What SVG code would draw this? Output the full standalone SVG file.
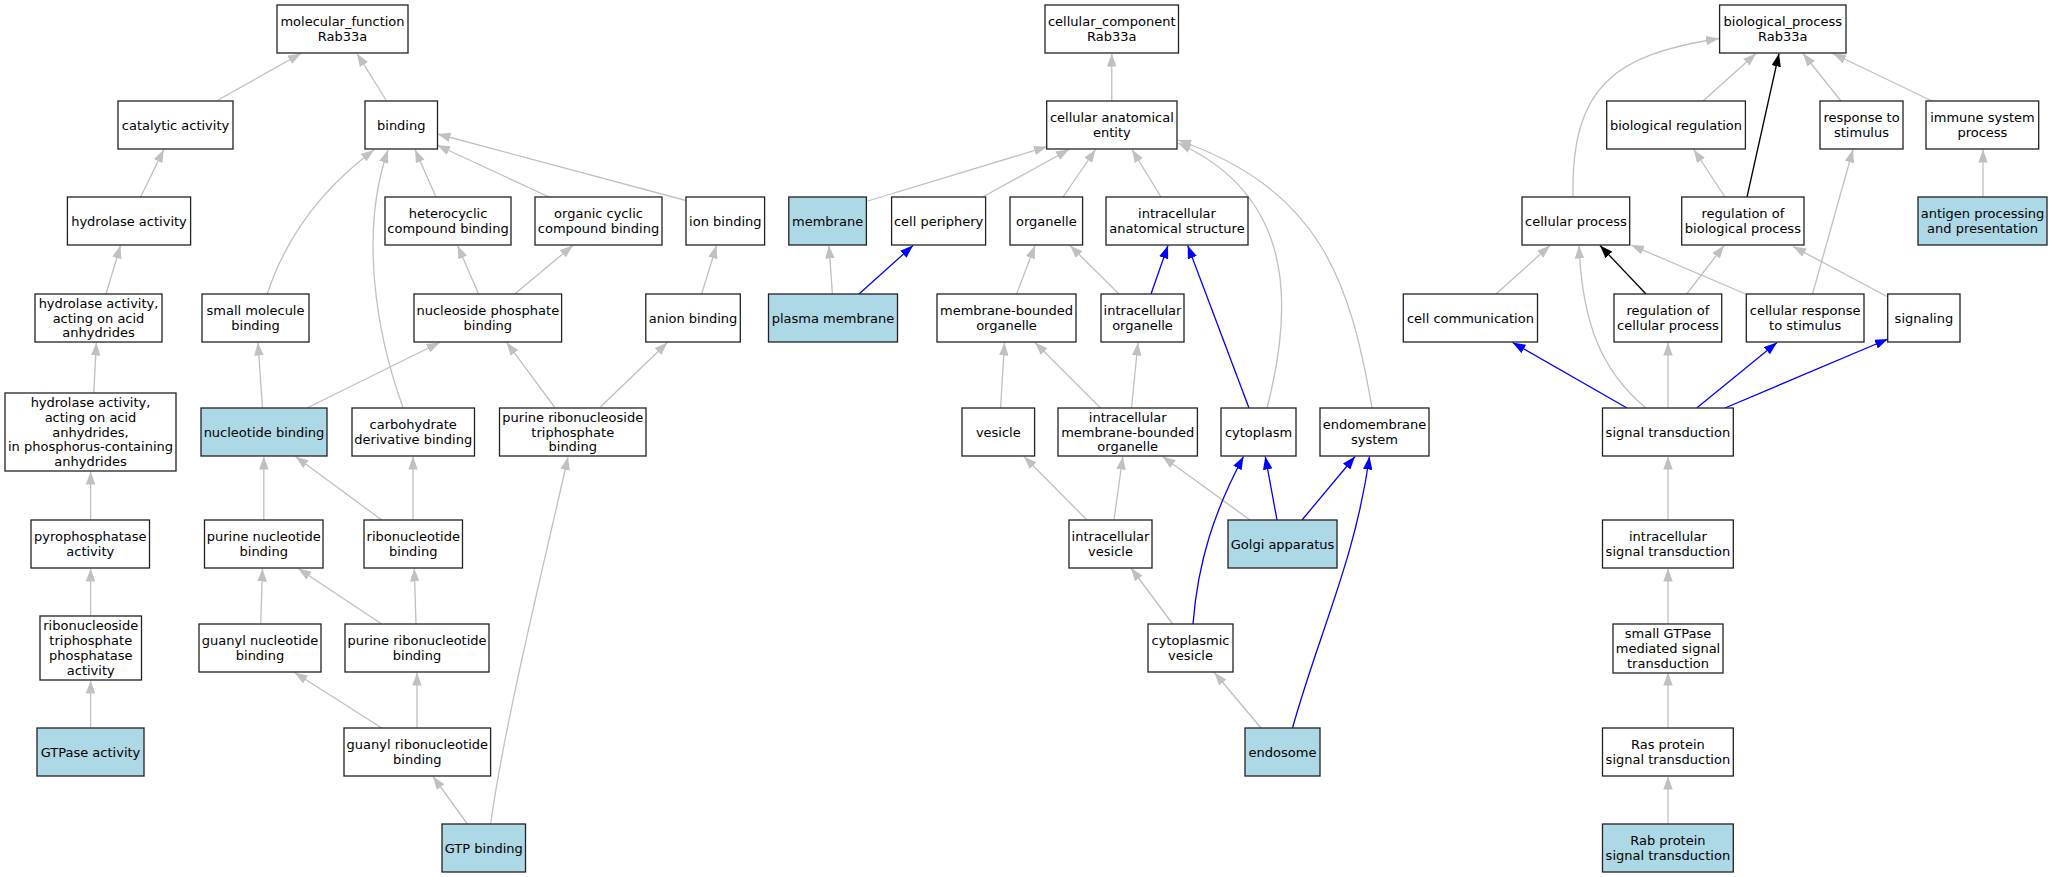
<svg xmlns="http://www.w3.org/2000/svg" width="2053" height="877" viewBox="0 0 2053 877">
<style>
.n rect{fill:#ffffff;stroke:#222222;stroke-width:1.3}
.h rect{fill:#add8e6;stroke:#222222;stroke-width:1.3}
text{font-family:"DejaVu Sans","Liberation Sans",sans-serif;font-size:13px;fill:#000000;text-anchor:middle}
.e path{fill:none;stroke-width:1.3}
.g{stroke:#c0c0c0;marker-end:url(#ag)}
.b{stroke:#0000ff;marker-end:url(#ab)}
.k{stroke:#000000;marker-end:url(#ak)}
</style>
<defs>
<marker id="ag" viewBox="0 0 13 9.5" refX="13" refY="4.75" markerWidth="13" markerHeight="9.5" markerUnits="userSpaceOnUse" orient="auto"><path d="M0,0 L13,4.75 L0,9.5 z" fill="#c0c0c0"/></marker>
<marker id="ab" viewBox="0 0 13 9.5" refX="13" refY="4.75" markerWidth="13" markerHeight="9.5" markerUnits="userSpaceOnUse" orient="auto"><path d="M0,0 L13,4.75 L0,9.5 z" fill="#0000ff"/></marker>
<marker id="ak" viewBox="0 0 13 9.5" refX="13" refY="4.75" markerWidth="13" markerHeight="9.5" markerUnits="userSpaceOnUse" orient="auto"><path d="M0,0 L13,4.75 L0,9.5 z" fill="#000000"/></marker>
</defs>
<rect x="0" y="0" width="2053" height="877" fill="#ffffff"/>
<g id="connectors" class="e">
<path class="g" d="M218,100 L301,53.5"/>
<path class="g" d="M386,100 L357,53.5"/>
<path class="g" d="M140.6,197 L163.8,149.5"/>
<path class="g" d="M106,294 L120.5,245.5"/>
<path class="g" d="M93.75,393 L96.4,342.5"/>
<path class="g" d="M90.6,520 L90.6,471.5"/>
<path class="g" d="M90.6,616 L90.6,568.5"/>
<path class="g" d="M90.6,728 L90.6,680.5"/>
<path class="g" d="M267,294.5 C285,240 320,190 374,150"/>
<path class="g" d="M403,407.5 C375,330 360,230 388,150"/>
<path class="g" d="M436,197 L415,149.5"/>
<path class="g" d="M549,197 L437,145"/>
<path class="g" d="M686,200.5 L437.5,134"/>
<path class="g" d="M478.6,294 L457.6,245.5"/>
<path class="g" d="M514.7,294 L572.8,245.5"/>
<path class="g" d="M701.6,294 L716.6,245.5"/>
<path class="g" d="M262.5,408 L258,342.5"/>
<path class="g" d="M307,408 L439.7,342.5"/>
<path class="g" d="M554.5,407 L506.7,342.5"/>
<path class="g" d="M600.4,407 L667.4,342.5"/>
<path class="g" d="M263.8,520 L263.8,456.5"/>
<path class="g" d="M381.7,520 L295.5,456.5"/>
<path class="g" d="M413,520 L413,456.5"/>
<path class="g" d="M260.7,624 L262.5,568.5"/>
<path class="g" d="M381.7,624 L298.2,568.5"/>
<path class="g" d="M416,624 L414.3,568.5"/>
<path class="g" d="M381.7,728 L294.6,672.5"/>
<path class="g" d="M417,728 L417,672.5"/>
<path class="g" d="M467.4,824 L433,776.5"/>
<path class="g" d="M490.6,824 C505,720 545,560 568,457"/>
<path class="g" d="M1111.75,101 L1111.75,53.5"/>
<path class="g" d="M867.8,201 L1047,146.7"/>
<path class="g" d="M982.7,197 L1069,149.5"/>
<path class="g" d="M1063,197 L1095.6,149.5"/>
<path class="g" d="M1161,197 L1132,149.5"/>
<path class="g" d="M1267,408 C1295,300 1292,195 1178,143"/>
<path class="g" d="M1372,408 C1350,280 1320,190 1178,140"/>
<path class="g" d="M832.4,294 L829,245.5"/>
<path class="b" d="M859,294 L913,245.5"/>
<path class="g" d="M1016.6,294 L1035,245.5"/>
<path class="g" d="M1119,294 L1070,245.5"/>
<path class="b" d="M1151,294 L1168,245.5"/>
<path class="b" d="M1249,408 L1187.7,245.5"/>
<path class="g" d="M1000.6,408 L1004.5,342.5"/>
<path class="g" d="M1100.5,408 L1035,342.5"/>
<path class="g" d="M1131.5,408 L1138,342.5"/>
<path class="g" d="M1087,520 L1024,456.5"/>
<path class="g" d="M1114,520 L1122.8,456.5"/>
<path class="g" d="M1250,520 L1162.5,456.5"/>
<path class="b" d="M1277,520 L1265.3,456.5"/>
<path class="b" d="M1302,520 L1355,456.5"/>
<path class="g" d="M1172.7,624 L1131,568"/>
<path class="b" d="M1193,624 C1198,560 1215,510 1243.5,456.5"/>
<path class="g" d="M1261,728 L1214.4,672.5"/>
<path class="b" d="M1292.5,728 C1320,630 1355,560 1369.5,456.5"/>
<path class="g" d="M1573,197 C1571,85 1615,55 1719,38.5"/>
<path class="g" d="M1703,101 L1756,53.5"/>
<path class="k" d="M1747,197 L1779,53.5"/>
<path class="g" d="M1841,101 L1803,53.5"/>
<path class="g" d="M1932,101 L1833,53.5"/>
<path class="g" d="M1725,197 L1693.75,149.5"/>
<path class="g" d="M1983,197 L1983,149.5"/>
<path class="g" d="M1496,294 L1550,245.5"/>
<path class="k" d="M1646,294 L1600,245.5"/>
<path class="g" d="M1686.7,294 L1724,245.5"/>
<path class="g" d="M1748,295 L1631,245"/>
<path class="g" d="M1812.5,294 L1853,149.5"/>
<path class="g" d="M1888,297 L1793,246.5"/>
<path class="b" d="M1627,408 L1512.5,342.5"/>
<path class="g" d="M1646,408 C1600,370 1582,320 1579,245.5"/>
<path class="g" d="M1668,408 L1668,342.5"/>
<path class="b" d="M1696.7,408 L1777,342.5"/>
<path class="b" d="M1725,408 L1888,339"/>
<path class="g" d="M1668,520 L1668,456.5"/>
<path class="g" d="M1668,624 L1668,568.5"/>
<path class="g" d="M1668,728 L1668,672.5"/>
<path class="g" d="M1668,824 L1668,776.5"/>
</g>
<g id="mf" class="n"><rect x="277" y="5" width="131" height="48"/><text x="342.5" y="26.2">molecular_function<tspan x="342.5" dy="14.8">Rab33a</tspan></text></g>
<g id="cat" class="n"><rect x="118" y="101" width="115" height="48"/><text x="175.5" y="129.6">catalytic activity</text></g>
<g id="binding" class="n"><rect x="365" y="101" width="72.5" height="48"/><text x="401.25" y="129.6">binding</text></g>
<g id="hyd" class="n"><rect x="67.4" y="197" width="123.2" height="48"/><text x="129" y="225.6">hydrolase activity</text></g>
<g id="het" class="n"><rect x="385" y="197" width="126" height="48"/><text x="448" y="218.2">heterocyclic<tspan x="448" dy="14.8">compound binding</tspan></text></g>
<g id="orgc" class="n"><rect x="535" y="197" width="127" height="48"/><text x="598.5" y="218.2">organic cyclic<tspan x="598.5" dy="14.8">compound binding</tspan></text></g>
<g id="ion" class="n"><rect x="686" y="197" width="78.6" height="48"/><text x="725.3" y="225.6">ion binding</text></g>
<g id="hyda" class="n"><rect x="35" y="294" width="127" height="48"/><text x="98.5" y="307.8">hydrolase activity,<tspan x="98.5" dy="14.8">acting on acid</tspan><tspan x="98.5" dy="14.8">anhydrides</tspan></text></g>
<g id="smb" class="n"><rect x="202" y="294" width="107" height="48"/><text x="255.5" y="315.2">small molecule<tspan x="255.5" dy="14.8">binding</tspan></text></g>
<g id="npb" class="n"><rect x="414" y="294" width="147.6" height="48"/><text x="487.8" y="315.2">nucleoside phosphate<tspan x="487.8" dy="14.8">binding</tspan></text></g>
<g id="anion" class="n"><rect x="645.8" y="294" width="94.5" height="48"/><text x="693" y="322.6">anion binding</text></g>
<g id="hydp" class="n"><rect x="5" y="393" width="171" height="78"/><text x="90.5" y="407">hydrolase activity,<tspan x="90.5" dy="14.8">acting on acid</tspan><tspan x="90.5" dy="14.8">anhydrides,</tspan><tspan x="90.5" dy="14.8">in phosphorus-containing</tspan><tspan x="90.5" dy="14.8">anhydrides</tspan></text></g>
<g id="nb" class="h"><rect x="201" y="408" width="126" height="48"/><text x="264" y="436.6">nucleotide binding</text></g>
<g id="cdb" class="n"><rect x="352" y="408" width="122.5" height="48"/><text x="413.25" y="429.2">carbohydrate<tspan x="413.25" dy="14.8">derivative binding</tspan></text></g>
<g id="prtb" class="n"><rect x="499.5" y="408" width="146.5" height="48"/><text x="572.75" y="421.8">purine ribonucleoside<tspan x="572.75" dy="14.8">triphosphate</tspan><tspan x="572.75" dy="14.8">binding</tspan></text></g>
<g id="pyro" class="n"><rect x="31" y="520" width="118.5" height="48"/><text x="90.25" y="541.2">pyrophosphatase<tspan x="90.25" dy="14.8">activity</tspan></text></g>
<g id="pnb" class="n"><rect x="204.5" y="520" width="118.5" height="48"/><text x="263.75" y="541.2">purine nucleotide<tspan x="263.75" dy="14.8">binding</tspan></text></g>
<g id="rnb" class="n"><rect x="364" y="520" width="98.5" height="48"/><text x="413.25" y="541.2">ribonucleotide<tspan x="413.25" dy="14.8">binding</tspan></text></g>
<g id="rtpa" class="n"><rect x="40" y="616" width="101.5" height="64"/><text x="90.75" y="630.4">ribonucleoside<tspan x="90.75" dy="14.8">triphosphate</tspan><tspan x="90.75" dy="14.8">phosphatase</tspan><tspan x="90.75" dy="14.8">activity</tspan></text></g>
<g id="gnb" class="n"><rect x="199" y="624" width="122" height="48"/><text x="260" y="645.2">guanyl nucleotide<tspan x="260" dy="14.8">binding</tspan></text></g>
<g id="prnb" class="n"><rect x="345" y="624" width="144" height="48"/><text x="417" y="645.2">purine ribonucleotide<tspan x="417" dy="14.8">binding</tspan></text></g>
<g id="gtpase" class="h"><rect x="37" y="728" width="107" height="48"/><text x="90.5" y="756.6">GTPase activity</text></g>
<g id="grb" class="n"><rect x="344" y="728" width="146.6" height="48"/><text x="417.3" y="749.2">guanyl ribonucleotide<tspan x="417.3" dy="14.8">binding</tspan></text></g>
<g id="gtpb" class="h"><rect x="442" y="824" width="83.5" height="48"/><text x="483.75" y="852.6">GTP binding</text></g>
<g id="cc" class="n"><rect x="1045" y="5" width="133.5" height="48"/><text x="1111.75" y="26.2">cellular_component<tspan x="1111.75" dy="14.8">Rab33a</tspan></text></g>
<g id="cae" class="n"><rect x="1046.7" y="101" width="130.3" height="48"/><text x="1111.85" y="122.2">cellular anatomical<tspan x="1111.85" dy="14.8">entity</tspan></text></g>
<g id="mem" class="h"><rect x="788.8" y="197" width="77.6" height="48"/><text x="827.6" y="225.6">membrane</text></g>
<g id="cp" class="n"><rect x="891.6" y="197" width="94" height="48"/><text x="938.6" y="225.6">cell periphery</text></g>
<g id="organelle" class="n"><rect x="1010" y="197" width="72.6" height="48"/><text x="1046.3" y="225.6">organelle</text></g>
<g id="ias" class="n"><rect x="1106" y="197" width="142" height="48"/><text x="1177" y="218.2">intracellular<tspan x="1177" dy="14.8">anatomical structure</tspan></text></g>
<g id="pm" class="h"><rect x="768.5" y="294" width="129" height="48"/><text x="833" y="322.6">plasma membrane</text></g>
<g id="mbo" class="n"><rect x="937" y="294" width="139" height="48"/><text x="1006.5" y="315.2">membrane-bounded<tspan x="1006.5" dy="14.8">organelle</tspan></text></g>
<g id="io" class="n"><rect x="1101" y="294" width="83" height="48"/><text x="1142.5" y="315.2">intracellular<tspan x="1142.5" dy="14.8">organelle</tspan></text></g>
<g id="ves" class="n"><rect x="962" y="408" width="72.6" height="48"/><text x="998.3" y="436.6">vesicle</text></g>
<g id="imbo" class="n"><rect x="1058" y="408" width="139.4" height="48"/><text x="1127.7" y="421.8">intracellular<tspan x="1127.7" dy="14.8">membrane-bounded</tspan><tspan x="1127.7" dy="14.8">organelle</tspan></text></g>
<g id="cyto" class="n"><rect x="1221" y="408" width="75" height="48"/><text x="1258.5" y="436.6">cytoplasm</text></g>
<g id="endo" class="n"><rect x="1320" y="408" width="109" height="48"/><text x="1374.5" y="429.2">endomembrane<tspan x="1374.5" dy="14.8">system</tspan></text></g>
<g id="iv" class="n"><rect x="1069" y="520" width="83" height="48"/><text x="1110.5" y="541.2">intracellular<tspan x="1110.5" dy="14.8">vesicle</tspan></text></g>
<g id="golgi" class="h"><rect x="1228" y="520" width="109" height="48"/><text x="1282.5" y="548.6">Golgi apparatus</text></g>
<g id="cv" class="n"><rect x="1148" y="624" width="85" height="48"/><text x="1190.5" y="645.2">cytoplasmic<tspan x="1190.5" dy="14.8">vesicle</tspan></text></g>
<g id="endosome" class="h"><rect x="1245" y="728" width="75" height="48"/><text x="1282.5" y="756.6">endosome</text></g>
<g id="bp" class="n"><rect x="1719.6" y="5" width="126.4" height="48"/><text x="1782.8" y="26.2">biological_process<tspan x="1782.8" dy="14.8">Rab33a</tspan></text></g>
<g id="breg" class="n"><rect x="1606.7" y="101" width="138.7" height="48"/><text x="1676" y="129.6">biological regulation</text></g>
<g id="rts" class="n"><rect x="1820" y="101" width="83" height="48"/><text x="1861.5" y="122.2">response to<tspan x="1861.5" dy="14.8">stimulus</tspan></text></g>
<g id="isp" class="n"><rect x="1926" y="101" width="112.7" height="48"/><text x="1982.4" y="122.2">immune system<tspan x="1982.4" dy="14.8">process</tspan></text></g>
<g id="cproc" class="n"><rect x="1522" y="197" width="107.7" height="48"/><text x="1575.9" y="225.6">cellular process</text></g>
<g id="rbp" class="n"><rect x="1681.7" y="197" width="122.3" height="48"/><text x="1742.9" y="218.2">regulation of<tspan x="1742.9" dy="14.8">biological process</tspan></text></g>
<g id="antigen" class="h"><rect x="1918" y="197" width="129" height="48"/><text x="1982.5" y="218.2">antigen processing<tspan x="1982.5" dy="14.8">and presentation</tspan></text></g>
<g id="ccomm" class="n"><rect x="1403.3" y="294" width="134.2" height="48"/><text x="1470.4" y="322.6">cell communication</text></g>
<g id="rcp" class="n"><rect x="1614" y="294" width="107.7" height="48"/><text x="1667.9" y="315.2">regulation of<tspan x="1667.9" dy="14.8">cellular process</tspan></text></g>
<g id="crs" class="n"><rect x="1746.3" y="294" width="117.7" height="48"/><text x="1805.2" y="315.2">cellular response<tspan x="1805.2" dy="14.8">to stimulus</tspan></text></g>
<g id="sig" class="n"><rect x="1887.7" y="294" width="72.3" height="48"/><text x="1923.9" y="322.6">signaling</text></g>
<g id="st" class="n"><rect x="1602.5" y="408" width="130.8" height="48"/><text x="1667.9" y="436.6">signal transduction</text></g>
<g id="ist" class="n"><rect x="1602.5" y="520" width="130.8" height="48"/><text x="1667.9" y="541.2">intracellular<tspan x="1667.9" dy="14.8">signal transduction</tspan></text></g>
<g id="sgt" class="n"><rect x="1613" y="624" width="110" height="49"/><text x="1668" y="638.3">small GTPase<tspan x="1668" dy="14.8">mediated signal</tspan><tspan x="1668" dy="14.8">transduction</tspan></text></g>
<g id="ras" class="n"><rect x="1602.5" y="728" width="130.8" height="48"/><text x="1667.9" y="749.2">Ras protein<tspan x="1667.9" dy="14.8">signal transduction</tspan></text></g>
<g id="rab" class="h"><rect x="1602.5" y="824" width="130.8" height="48"/><text x="1667.9" y="845.2">Rab protein<tspan x="1667.9" dy="14.8">signal transduction</tspan></text></g>
</svg>
